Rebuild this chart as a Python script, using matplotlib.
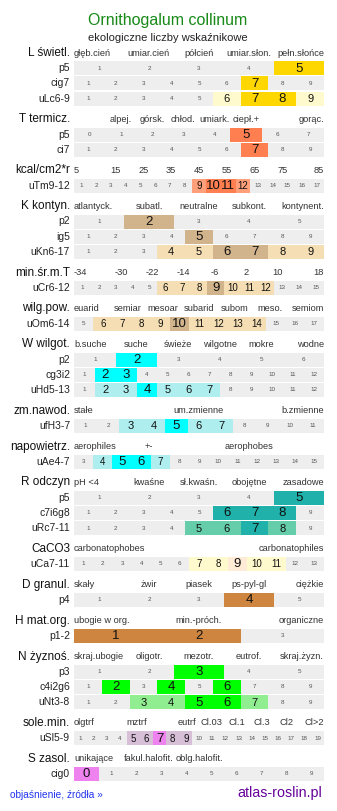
import numpy as np
import matplotlib
matplotlib.use("Agg")
import matplotlib.pyplot as plt

plt.rcParams['font.family'] = ['Liberation Sans', 'DejaVu Sans']

# --- data ---------------------------------------------------------------
title = "Ornithogalum collinum"
subtitle = "ekologiczne liczby wskaźnikowe"

section_names = ["L świetl.", "T termicz.", "kcal/cm2*r", "K kontyn.", "min.śr.m.T",
                 "wilg.pow.", "W wilgot.", "zm.nawod.", "napowietrz.", "R odczyn",
                 "CaCO3", "D granul.", "H mat.org.", "N żyznoś.", "sole.min.", "S zasol."]

section_ticks = [
    ["głęb.cień", "umiar.cień", "półcień", "umiar.słon.", "pełn.słońce"],
    ["", "alpej.", "górsk.", "chłod.", "umiark.", "ciepł.+", "", "gorąc."],
    ["5", "15", "25", "35", "45", "55", "65", "75", "85"],
    ["atlantyck.", "subatl.", "neutralne", "subkont.", "kontynent."],
    ["-34", "-30", "-22", "-14", "-6", "2", "10", "18"],
    ["euarid", "semiar", "mesoar", "subarid", "subom", "meso.", "semiom"],
    ["b.suche", "suche", "świeże", "wilgotne", "mokre", "wodne"],
    ["stałe", "um.zmienne", "b.zmienne"],
    ["aerophiles", "+-", "", "aerophobes", ""],
    ["pH <4", "kwaśne", "sł.kwaśn.", "obojętne", "zasadowe"],
    ["carbonatophobes", "carbonatophiles"],
    ["skały", "żwir", "piasek", "ps-pyl-gl", "ciężkie"],
    ["ubogie w org.", "min.-próch.", "organiczne"],
    ["skraj.ubogie", "oligotr.", "mezotr.", "eutrof.", "skraj.żyzn."],
    ["olgtrf", "", "mztrf", "", "eutrf", "Cl.03", "Cl.1", "Cl.3", "Cl2", "Cl>2"],
    ["unikające", "fakul.halofit.", "oblg.halofit.", "", ""],
]

row_names = [["p5", "cig7", "uLc6-9"], ["p5", "ci7"], ["uTm9-12"],
             ["p2", "ig5", "uKn6-17"], ["uCr6-12"], ["uOm6-14"],
             ["p2", "cg3i2", "uHd5-13"], ["ufH3-7"], ["uAe4-7"],
             ["p5", "c7i6g8", "uRc7-11"], ["uCa7-11"], ["p4"], ["p1-2"],
             ["p3", "c4i2g6", "uNt3-8"], ["uSl5-9"], ["cig0"]]

row_first = [[1, 1, 1], [0, 1], [1], [1, 1, 1], [1], [5], [1, 1, 1], [1], [3],
             [1, 1, 1], [1], [1], [1], [1, 1, 1], [1], [0]]
row_last = [[5, 9, 9], [7, 9], [17], [5, 9, 9], [15], [17], [6, 12, 12], [11], [15],
            [5, 9, 9], [13], [5], [3], [5, 9, 9], [19], [9]]

row_strong = [[[5], [7], [7, 8]], [[5], [7]], [[10, 11]],
              [[2], [5], [6, 7]], [[9]], [[10]],
              [[2], [2, 3], [4]], [[5]], [[5, 6]],
              [[5], [6, 7, 8], [7]], [[9]], [[4]], [[1, 2]],
              [[3], [2, 4, 6], [5, 6]], [[7]], [[0]]]
row_light = [[[], [], [6, 9]], [[], []], [[9, 12]],
             [[], [], [4, 5, 8, 9]], [[6, 7, 8, 10, 11, 12]], [[6, 7, 8, 9, 11, 12, 13, 14]],
             [[], [], [2, 3, 5, 6, 7]], [[3, 4, 6, 7]], [[4, 7]],
             [[], [], [5, 6, 8]], [[7, 8, 10, 11]], [[]], [[]],
             [[], [], [3, 4, 7]], [[5, 6, 8, 9]], [[]]]

# --- styles -------------------------------------------------------------
strong_col = ["#FFD700", "#FF7F50", "#FF7F50", "#D2B48C", "#D2B48C", "#D2B48C",
              "#00FFFF", "#00FFFF", "#00FFFF", "#20B2AA", "#FFEBD6", "#CD853F",
              "#CD853F", "#00FF00", "#EE82EE", "#EE82EE"]
light_col = ["#FFFACD", "#FFA07A", "#FFA07A", "#F5DEB3", "#F5DEB3", "#F5DEB3",
             "#AFEEEE", "#AFEEEE", "#AFEEEE", "#66CDAA", "#FFFACD", "#CD853F",
             "#CD853F", "#90EE90", "#D8BFD8", "#D8BFD8"]
GREY = "#EEEEEE"
X0, X1 = 74, 324
PITCH = 15.2
GAP = 20.7
RH = 14

fig = plt.figure(figsize=(3.37, 8.11), dpi=100)
ax = fig.add_axes([0, 0, 1, 1])
ax.set_xlim(0, 337)
ax.set_ylim(811, 0)
ax.axis("off")

ax.text(168, 20, title, color="#178a17", fontsize=11.5, ha="center", va="center")
ax.text(168, 38, subtitle, color="#222222", fontsize=8, ha="center", va="center")

y = 53
for s, name in enumerate(section_names):
    ax.text(70, y, name, fontsize=8.5, ha="right", va="center", color="#111111")
    ticks = section_ticks[s]
    nt = len(ticks)
    tw = (X1 - X0) / nt
    for k, t in enumerate(ticks):
        if k == 0:
            tx, ha = X0, "left"
        elif k == nt - 1:
            tx, ha = X1, "right"
        else:
            tx, ha = X0 + (k + 0.5) * tw, "center"
        ax.text(tx, y, t, fontsize=6.7, ha=ha, va="center", color="#333333")
    for r, rname in enumerate(row_names[s]):
        y += PITCH
        vals = np.arange(row_first[s][r], row_last[s][r] + 1)
        n = len(vals)
        w = (X1 - X0) / n
        lefts = X0 + np.arange(n) * w
        ax.bar(X0, RH, width=X1 - X0, bottom=y - RH / 2, align="edge", color=GREY, lw=0)
        ax.text(70, y, rname, fontsize=7.5, ha="right", va="center", color="#222222")
        for i, v in enumerate(vals):
            cx = lefts[i] + w / 2
            if v in row_strong[s][r]:
                ax.bar(lefts[i], RH, width=w, bottom=y - RH / 2, align="edge",
                       color=strong_col[s], lw=0)
                ax.text(cx, y + 0.5, str(v), fontsize=9.5, ha="center", va="center", color="#111111")
            elif v in row_light[s][r]:
                ax.bar(lefts[i], RH, width=w, bottom=y - RH / 2, align="edge",
                       color=light_col[s], lw=0)
                fs = 8 if n <= 12 else 7
                ax.text(cx, y + 0.5, str(v), fontsize=fs, ha="center", va="center", color="#111111")
            else:
                ax.text(cx, y, str(v), fontsize=4.5, ha="center", va="center", color="#555555")
    y += GAP

ax.text(10, 795, "objaśnienie, źródła »", fontsize=7.3, ha="left", va="center", color="#2233EE")
ax.text(322, 793, "atlas-roslin.pl", fontsize=10.3, ha="right", va="center", color="#660099")

fig.savefig("out.png", dpi=100)
